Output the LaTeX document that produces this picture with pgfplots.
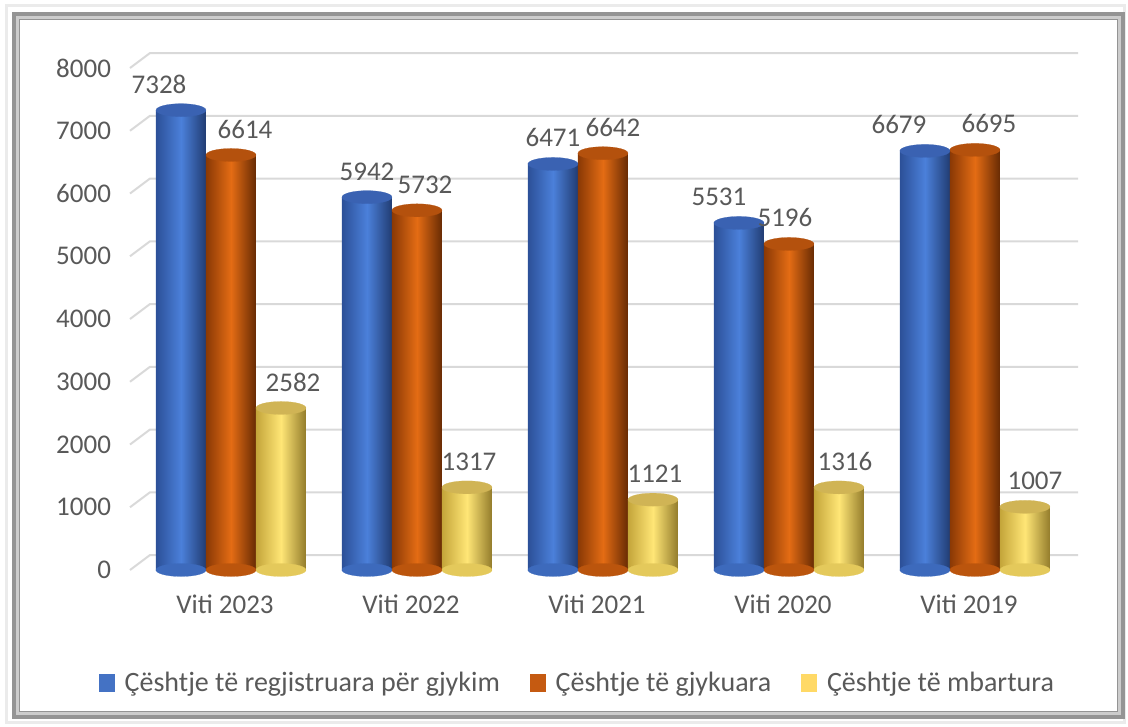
\documentclass[border=0pt]{standalone}
\usepackage{pgfplots}
\pgfplotsset{compat=1.18}
\usepackage{fontspec}
\setmainfont{Carlito}

\definecolor{txt}{HTML}{595959}
\definecolor{gridc}{HTML}{D9D9D9}
\definecolor{bluelo}{HTML}{2C5098}
\definecolor{bluehi}{HTML}{4B80DA}
\definecolor{bluetop}{HTML}{3A62B2}
\definecolor{orlo}{HTML}{8A3905}
\definecolor{orhi}{HTML}{E46C14}
\definecolor{ortop}{HTML}{B4510D}
\definecolor{yelo}{HTML}{C4A53A}
\definecolor{yehi}{HTML}{FFE676}
\definecolor{yetop}{HTML}{D0B455}
\definecolor{bluel}{HTML}{4472C4}
\definecolor{orl}{HTML}{C55A11}
\definecolor{yel}{HTML}{FFD966}

\newcommand\fnt{\fontsize{13.5}{16}\selectfont}

% one cylinder: x, value, shift, dark, light, top colour, label xshift
\newcommand\cyl[7]{%
  \addplot[forget plot, only marks, xshift=#3, mark=*, mark size=12.5pt,
    mark options={yscale=0.26, draw=#5!55!#4, line width=0.1pt, fill=#5!55!#4}] coordinates {(#1,0)};
  \addplot[forget plot, ybar, bar width=25pt, bar shift=#3, draw=none,
    left color=#4, right color=#4!75!black, middle color=#5] coordinates {(#1,#2)};
  \addplot[forget plot, only marks, xshift=#3, mark=*, mark size=12.5pt,
    mark options={yscale=0.26, draw=#6, line width=0.1pt, fill=#6},
    nodes near coords, nodes near coords style={xshift=#7}] coordinates {(#1,#2)};
}

\begin{document}
\begin{tikzpicture}
\useasboundingbox (0,0) rectangle (564pt,363.5pt);
\begin{axis}[
  at={(65pt,78.5pt)}, anchor=south west,
  scale only axis,
  width=470pt, height=251pt,
  xmin=-0.543, xmax=4.511,
  ymin=0, ymax=8000,
  clip=false,
  axis line style={draw=none},
  tick style={draw=none},
  xtick={0,...,4},
  xticklabels={Viti 2023,Viti 2022,Viti 2021,Viti 2020,Viti 2019},
  ytick={0,1000,...,8000},
  /pgf/number format/1000 sep={},
  /pgf/number format/assume math mode=true,
  ticklabel style={font=\fnt, text=txt},
  xticklabel style={yshift=-9pt, xshift=-3pt},
  yticklabel style={xshift=-6pt},
  legend style={at={(0.477,-0.225)}, anchor=center, draw=none, fill=none,
    font=\fontsize{14}{16}\selectfont, text=txt, legend columns=-1,
    /tikz/every odd column/.append style={column sep=3pt},
    /tikz/every even column/.append style={column sep=13pt}},
  nodes near coords style={font=\fnt, text=txt, yshift=5pt},
]
% grid lines with the 3-D back wall offset
\pgfplotsinvokeforeach{0,1000,...,8000}{
  \draw[gridc, line width=1pt] (axis cs:-0.543,#1) -- ([shift={(10pt,7.5pt)}]axis cs:-0.543,#1)
    -- ([shift={(4pt,7.5pt)}]axis cs:4.511,#1);
}

\addlegendimage{legend image code/.code={\fill[bluel] (0pt,-4pt) rectangle (7.5pt,4.5pt);}}
\addlegendimage{legend image code/.code={\fill[orl] (0pt,-4pt) rectangle (7.5pt,4.5pt);}}
\addlegendimage{legend image code/.code={\fill[yel] (0pt,-4pt) rectangle (7.5pt,4.5pt);}}

% Viti 2023
\cyl{0}{7328}{-25pt}{bluelo}{bluehi}{bluetop}{-11pt}
\cyl{0}{6614}{0pt}{orlo}{orhi}{ortop}{7pt}
\cyl{0}{2582}{25pt}{yelo}{yehi}{yetop}{6pt}
% Viti 2022
\cyl{1}{5942}{-25pt}{bluelo}{bluehi}{bluetop}{0pt}
\cyl{1}{5732}{0pt}{orlo}{orhi}{ortop}{4pt}
\cyl{1}{1317}{25pt}{yelo}{yehi}{yetop}{1pt}
% Viti 2021
\cyl{2}{6471}{-25pt}{bluelo}{bluehi}{bluetop}{0pt}
\cyl{2}{6642}{0pt}{orlo}{orhi}{ortop}{5pt}
\cyl{2}{1121}{25pt}{yelo}{yehi}{yetop}{1pt}
% Viti 2020
\cyl{3}{5531}{-25pt}{bluelo}{bluehi}{bluetop}{-10pt}
\cyl{3}{5196}{0pt}{orlo}{orhi}{ortop}{-2pt}
\cyl{3}{1316}{25pt}{yelo}{yehi}{yetop}{3pt}
% Viti 2019
\cyl{4}{6679}{-25pt}{bluelo}{bluehi}{bluetop}{-13pt}
\cyl{4}{6695}{0pt}{orlo}{orhi}{ortop}{7pt}
\cyl{4}{1007}{25pt}{yelo}{yehi}{yetop}{5pt}

\legend{Çështje të regjistruara për gjykim, Çështje të gjykuara, Çështje të mbartura}
\end{axis}
% outer frame
\draw[black!8, line width=1.5pt] (3pt,2pt) rectangle (562pt,360.5pt);
\draw[black!42, line width=4pt] (8pt,6pt) rectangle (560.5pt,355.5pt);
\draw[black!20, line width=1.2pt] (8.8pt,6.8pt) rectangle (559.7pt,354.7pt);
\end{tikzpicture}
\end{document}
